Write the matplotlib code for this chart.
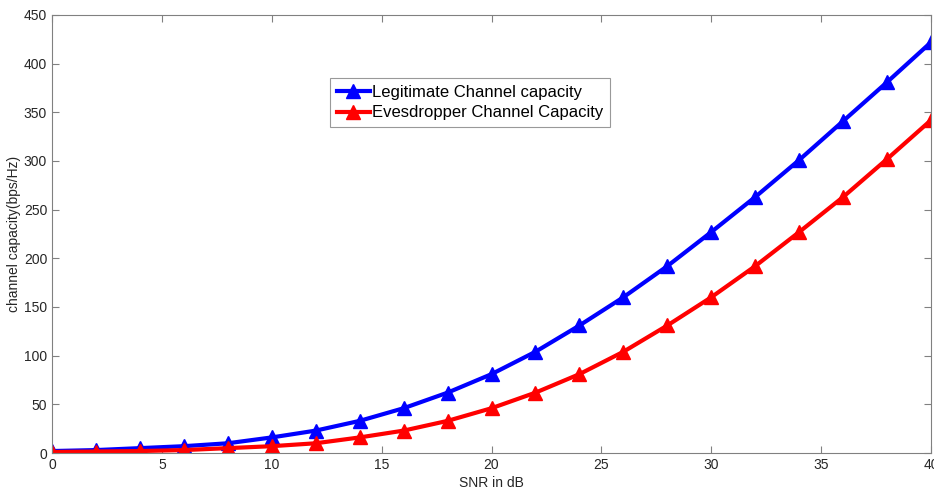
import matplotlib
matplotlib.use("Agg")
import matplotlib.pyplot as plt

snr_db = [0, 2, 4, 6, 8, 10, 12, 14, 16, 18, 20, 22, 24, 26, 28, 30, 32, 34, 36, 38, 40]
legit = [2, 3, 5, 7, 10, 16, 23, 33, 46, 62, 81, 104, 131, 160, 192, 227, 263, 301, 341, 381, 422]
eves = [1, 1.5, 2, 3, 5, 7, 10, 16, 23, 33, 46, 62, 81, 104, 131, 160, 192, 227, 263, 302, 342]

plt.rcParams['font.family'] = ['Liberation Sans', 'DejaVu Sans']

fig = plt.figure(figsize=(9.34, 4.9), dpi=100)
top_px, bot_px, left_px, right_px = 15, 453, 52, 931
ax = fig.add_axes([left_px/934, 1 - bot_px/490, (right_px-left_px)/934, (bot_px-top_px)/490])

ax.plot(snr_db, legit, color='#0000ff', lw=3, marker='^', ms=10, label='Legitimate Channel capacity')
ax.plot(snr_db, eves, color='#ff0000', lw=3, marker='^', ms=10, label='Evesdropper Channel Capacity')

ax.set_xlim(0, 40)
ax.set_ylim(0, 450)
ax.set_xticks(range(0, 41, 5))
ax.set_yticks(range(0, 451, 50))
gray = '#808080'
for s in ax.spines.values():
    s.set_color(gray)
    s.set_linewidth(0.8)
ax.tick_params(direction='in', top=True, right=True, colors=gray, labelcolor='#262626', labelsize=10, length=5)
ax.set_xlabel('SNR in dB', fontsize=10, color='#262626', labelpad=3)
ax.set_ylabel('channel capacity(bps/Hz)', fontsize=10, color='#262626', labelpad=2)

leg = ax.legend(loc='upper left',
                bbox_to_anchor=((330-left_px)/(right_px-left_px), 1 - (78-top_px)/(bot_px-top_px)),
                fontsize=12, frameon=True, fancybox=False, borderpad=0.4, handlelength=2.0,
                handletextpad=0.15, labelspacing=0.35, borderaxespad=0, markerscale=1.0)
leg.get_frame().set_edgecolor(gray)
leg.get_frame().set_linewidth(0.8)

fig.savefig('out.png', dpi=100)
